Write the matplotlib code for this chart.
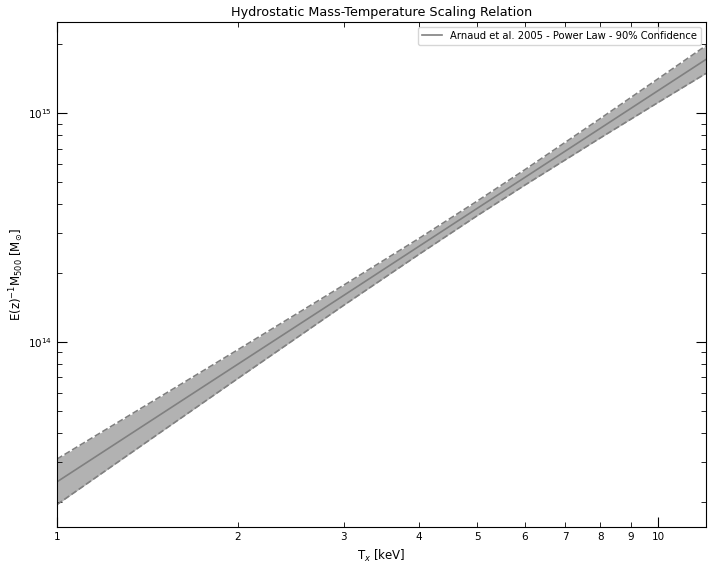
import matplotlib
matplotlib.use("Agg")
import matplotlib.pyplot as plt
from matplotlib.ticker import FormatStrFormatter
import numpy as np

# Arnaud et al. 2005 M-T relation
temp_kev = [1, 1.5, 2, 3, 4, 5, 6, 8, 10, 12]
mass_fit = [2.45e13, 4.90e13, 8.01e13, 1.60e14, 2.62e14, 3.84e14, 5.24e14, 8.57e14, 1.256e15, 1.716e15]
mass_upper = [3.08e13, 5.86e13, 9.26e13, 1.774e14, 2.835e14, 4.13e14, 5.66e14, 9.45e14, 1.415e15, 1.970e15]
mass_lower = [1.95e13, 4.10e13, 6.94e13, 1.449e14, 2.417e14, 3.567e14, 4.85e14, 7.78e14, 1.115e15, 1.491e15]

fig = plt.figure(figsize=(7.12, 5.68), dpi=100)
ax = fig.add_axes([0.080, 0.0722, 0.9116, 0.8891])

ax.fill_between(temp_kev, mass_lower, mass_upper, color="grey", alpha=0.6, lw=0)
ax.plot(temp_kev, mass_upper, color="grey", ls="--", lw=1.2)
ax.plot(temp_kev, mass_lower, color="grey", ls="--", lw=1.2)
ax.plot(temp_kev, mass_fit, color="grey", lw=1.2,
        label="Arnaud et al. 2005 - Power Law - 90% Confidence")

ax.set_xscale("log")
ax.set_yscale("log")
ax.set_xlim(1, 12)
ax.set_ylim(1.556e13, 2.5e15)

ax.xaxis.set_major_formatter(FormatStrFormatter("%g"))
ax.xaxis.set_minor_formatter(FormatStrFormatter("%g"))

ax.tick_params(which="both", direction="in", top=True, right=True, labelsize=7.5)
ax.tick_params(which="major", length=7)
ax.tick_params(which="minor", length=3.5)

ax.set_xlabel("T$_x$ [keV]", fontsize=8.5)
ax.set_ylabel("E(z)$^{-1}$M$_{500}$ [M$_{\\odot}$]", fontsize=8.5, labelpad=1.5)
ax.set_title("Hydrostatic Mass-Temperature Scaling Relation", fontsize=9.2, pad=4)
ax.legend(loc="upper right", fontsize=7.2)

plt.savefig("out.png", dpi=100)
